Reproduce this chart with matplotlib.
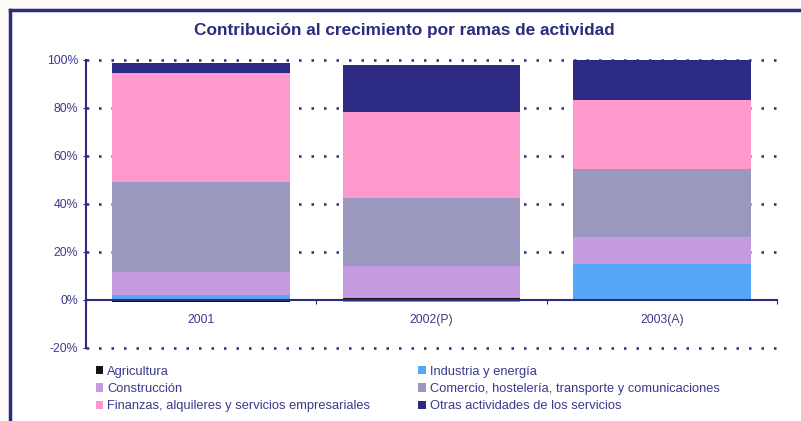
import matplotlib.pyplot as plt
import numpy as np
from matplotlib.lines import Line2D
from matplotlib.patches import Patch

# Data (share of growth, %)
years = ['2001', '2002(P)', '2003(A)']
agricultura = [-1.0, 1.0, 0.0]
industria = [2.0, -1.0, 14.8]
construccion = [9.7, 13.3, 11.6]
comercio = [37.5, 28.3, 28.2]
finanzas = [45.5, 35.9, 28.7]
otras = [4.0, 19.4, 16.7]

series_names = ['Agricultura', 'Industria y energía', 'Construcción',
                'Comercio, hostelería, transporte y comunicaciones',
                'Finanzas, alquileres y servicios empresariales',
                'Otras actividades de los servicios']
series_vals = [agricultura, industria, construccion, comercio, finanzas, otras]
colors = ['#141414', '#55a8f5', '#c49ae0', '#9a98bf', '#ff99cc', '#2d2a84']

navy = '#2b2b80'
text_col = '#3a3a8c'

plt.rcParams['font.family'] = ['Liberation Sans', 'DejaVu Sans']

fig = plt.figure(figsize=(8.01, 4.21), dpi=100)
fig.patch.set_facecolor('#fdfcf6')

# frame around the chart
fig.add_artist(plt.Rectangle((10 / 801, 0), 1, 1 - 10 / 421, transform=fig.transFigure,
                             facecolor='white', edgecolor='none', zorder=-10))
fig.add_artist(Line2D([10 / 801, 10 / 801], [0, 1 - 10 / 421], transform=fig.transFigure,
                      color=navy, lw=2.5))
fig.add_artist(Line2D([10 / 801, 1], [1 - 10 / 421, 1 - 10 / 421], transform=fig.transFigure,
                      color=navy, lw=2.5))

ax = fig.add_axes([86 / 801, 73 / 421, 691 / 801, 288 / 421])
ax.set_facecolor('none')

x = np.arange(len(years))
pos_base = np.zeros(len(years))
neg_base = np.zeros(len(years))
for name, vals, c in zip(series_names, series_vals, colors):
    vals = np.array(vals)
    bottom = np.where(vals >= 0, pos_base, neg_base)
    ax.bar(x, vals, width=0.77, bottom=bottom, color=c, zorder=2, label=name)
    pos_base = pos_base + np.where(vals >= 0, vals, 0)
    neg_base = neg_base + np.where(vals < 0, vals, 0)

ax.set_xlim(-0.5, 2.5)
ax.set_ylim(-20, 100)

# dotted grid
for yv in [-20, 20, 40, 60, 80, 100]:
    ax.axhline(yv, color=navy, lw=1.8, linestyle=(0, (1, 4)), zorder=1, clip_on=False)

ax.spines['top'].set_visible(False)
ax.spines['right'].set_visible(False)
ax.spines['left'].set_color(navy)
ax.spines['left'].set_linewidth(1.5)
ax.spines['bottom'].set_position(('data', 0))
ax.spines['bottom'].set_color(navy)
ax.spines['bottom'].set_linewidth(1.5)
ax.spines['bottom'].set_zorder(3)

ax.set_yticks([-20, 0, 20, 40, 60, 80, 100])
ax.set_yticklabels(['-20%', '0%', '20%', '40%', '60%', '80%', '100%'])
ax.tick_params(axis='y', direction='inout', length=5, color=navy, labelsize=8.8,
               labelcolor=text_col, pad=3)

ax.set_xticks([-0.5, 0.5, 1.5, 2.5])
ax.set_xticklabels([])
ax.tick_params(axis='x', which='major', direction='out', length=3, color=navy)
ax.set_xticks(x, minor=True)
ax.set_xticklabels(years, minor=True)
ax.tick_params(axis='x', which='minor', length=0, labelsize=8.8, labelcolor=text_col, pad=10)

fig.text(0.505, 1 - 31 / 421, 'Contribución al crecimiento por ramas de actividad',
         ha='center', va='center', fontsize=12.4, fontweight='bold', color=navy)

handles = [Patch(facecolor=c, edgecolor='none') for c in colors]
order = [0, 2, 4, 1, 3, 5]
leg = fig.legend([handles[i] for i in order], [series_names[i] for i in order],
                 ncol=2, loc='upper left', bbox_to_anchor=(84 / 801, 1 - 354 / 421),
                 frameon=False, fontsize=9.3, handlelength=0.6, handleheight=0.6,
                 handletextpad=0.3, labelspacing=0.42, columnspacing=3.7)
for t in leg.get_texts():
    t.set_color(text_col)

fig.savefig('out.png', dpi=100, facecolor=fig.get_facecolor())
